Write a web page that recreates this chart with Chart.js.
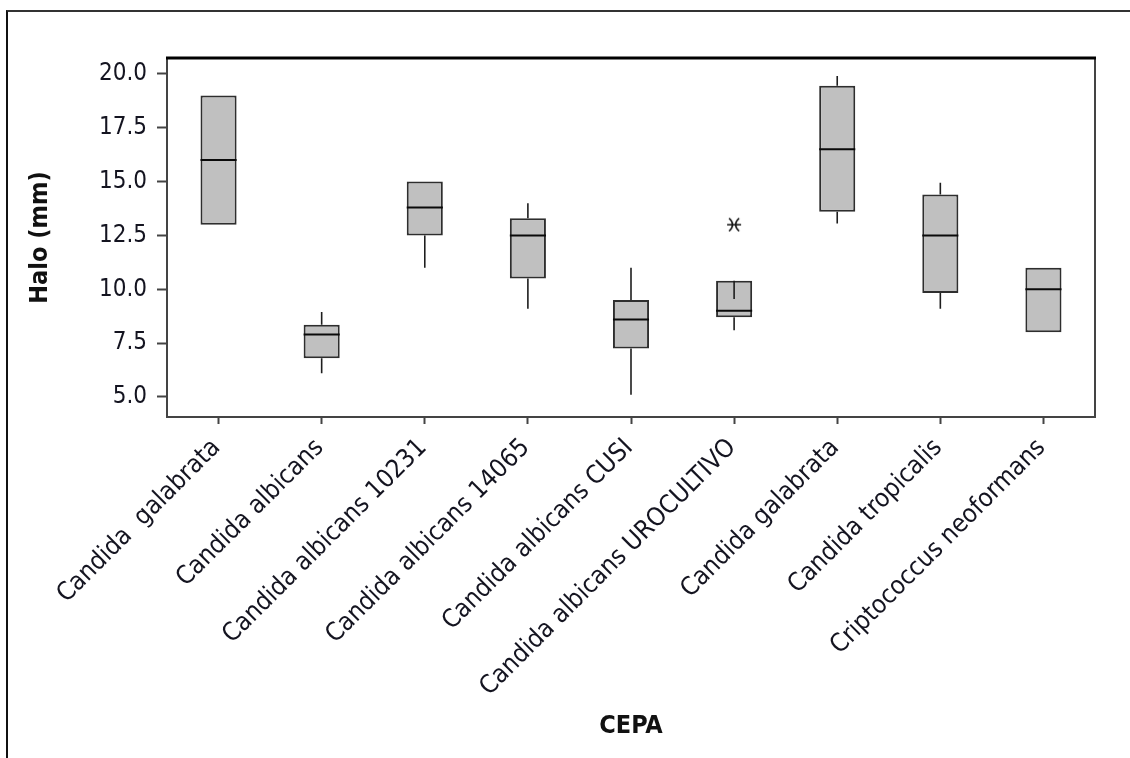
<!DOCTYPE html>
<html>
<head>
<meta charset="utf-8">
<script src="https://cdn.jsdelivr.net/npm/chart.js@4.4.1/dist/chart.umd.min.js"></script>
<style>
  html, body { margin: 0; padding: 0; background: #fff; }
  #wrap { position: relative; width: 1130px; height: 758px; overflow: hidden; }
  #frame { position: absolute; left: 6px; top: 10px; right: -10px; bottom: -10px;
           border-left: 2px solid #111; border-top: 2px solid #333; }
  canvas { position: absolute; left: 0; top: 0; }
</style>
</head>
<body>
<div id="wrap">
  <div id="frame"></div>
  <canvas id="chart" width="1130" height="758"></canvas>
</div>
<script>
const categories = [
  "Candida  galabrata",
  "Candida albicans",
  "Candida albicans 10231",
  "Candida albicans 14065",
  "Candida albicans CUSI",
  "Candida albicans UROCULTIVO",
  "Candida galabrata",
  "Candida tropicalis",
  "Criptococcus neoformans"
];

// five-number summaries per strain (mm)
const whiskerLow = [13, 6.1, 11, 9.1, 5.1, 8.1, 13.05, 9.1, 8];
const quartile1 = [13, 6.8, 12.5, 10.5, 7.25, 8.7, 13.6, 9.83, 8];
const medians = [16, 7.9, 13.8, 12.5, 8.6, 9.0, 16.5, 12.5, 10];
const quartile3 = [19, 8.35, 15, 13.3, 9.5, 10.4, 19.45, 14.4, 11];
const whiskerHigh = [19, 8.95, 15, 14, 11, 9.55, 19.9, 14.95, 11];

const outlierCategory = ["Candida albicans UROCULTIVO"];
const outlierValues = [13];

const yTicks = [5, 7.5, 10, 12.5, 15, 17.5, 20];

const FONT = "'DejaVu Sans Condensed', 'DejaVu Sans', sans-serif";
const TEXT = "#141420";
const AXIS = "#444";

// asterisk-like outlier symbol: a bar with ")(" arms
function outlierSymbol() {
  const c = document.createElement("canvas");
  c.width = 18;
  c.height = 16;
  const g = c.getContext("2d");
  g.strokeStyle = "#111";
  g.lineWidth = 1.6;
  g.beginPath();
  g.moveTo(2, 8);
  g.lineTo(16, 8);
  g.moveTo(4, 1.5);
  g.quadraticCurveTo(11, 8, 4, 14.5);
  g.moveTo(14, 1.5);
  g.quadraticCurveTo(7, 8, 14, 14.5);
  g.stroke();
  return c;
}

const boxMarks = {
  id: "boxMarks",
  afterDatasetsDraw(chart) {
    const { ctx, chartArea, scales } = chart;
    const y = scales.y;
    const meta = chart.getDatasetMeta(0);
    ctx.save();
    meta.data.forEach((bar, i) => {
      const half = bar.width / 2;
      ctx.strokeStyle = "#1e1e1e";
      ctx.lineWidth = 1.6;
      ctx.beginPath();
      if (whiskerHigh[i] !== quartile3[i]) {
        ctx.moveTo(bar.x, y.getPixelForValue(quartile3[i]));
        ctx.lineTo(bar.x, y.getPixelForValue(whiskerHigh[i]));
      }
      if (whiskerLow[i] !== quartile1[i]) {
        ctx.moveTo(bar.x, y.getPixelForValue(quartile1[i]));
        ctx.lineTo(bar.x, y.getPixelForValue(whiskerLow[i]));
      }
      ctx.stroke();

      const my = y.getPixelForValue(medians[i]);
      ctx.strokeStyle = "#0a0a0a";
      ctx.lineWidth = 2;
      ctx.beginPath();
      ctx.moveTo(bar.x - half, my);
      ctx.lineTo(bar.x + half, my);
      ctx.stroke();
    });

    // plot frame: grey sides, heavier black top edge
    const { left, right, top, bottom } = chartArea;
    ctx.strokeStyle = AXIS;
    ctx.lineWidth = 2;
    ctx.beginPath();
    ctx.moveTo(left, top);
    ctx.lineTo(left, bottom);
    ctx.lineTo(right, bottom);
    ctx.lineTo(right, top);
    ctx.stroke();
    ctx.strokeStyle = "#000";
    ctx.lineWidth = 3;
    ctx.beginPath();
    ctx.moveTo(left - 1, top);
    ctx.lineTo(right + 1, top);
    ctx.stroke();
    ctx.restore();
  }
};

new Chart(document.getElementById("chart"), {
  type: "bar",
  data: {
    labels: categories,
    datasets: [
      {
        type: "bar",
        data: categories.map((c, i) => [quartile1[i], quartile3[i]]),
        backgroundColor: "#c0c0c0",
        borderColor: "#2e2e2e",
        borderWidth: 2,
        borderSkipped: false,
        barPercentage: 0.35,
        categoryPercentage: 1
      },
      {
        type: "scatter",
        data: outlierCategory.map((c, i) => ({ x: c, y: outlierValues[i] })),
        pointStyle: outlierSymbol(),
        radius: 8
      }
    ]
  },
  options: {
    responsive: false,
    animation: false,
    layout: { padding: { left: 21, top: 58, right: 35, bottom: 13 } },
    plugins: {
      legend: { display: false },
      tooltip: { enabled: false }
    },
    scales: {
      x: {
        type: "category",
        offset: true,
        afterFit: (scale) => { scale.height = 328; },
        grid: {
          offset: false,
          drawOnChartArea: false,
          tickLength: 7,
          tickWidth: 2,
          tickColor: AXIS
        },
        border: { display: false },
        ticks: {
          autoSkip: false,
          minRotation: 45,
          maxRotation: 45,
          padding: 9,
          labelOffset: -2,
          color: TEXT,
          font: { family: FONT, size: 25.5 }
        },
        title: {
          display: true,
          text: "CEPA",
          color: "#111",
          padding: { top: 0, bottom: 4 },
          font: { family: FONT, size: 25, weight: "bold" }
        }
      },
      y: {
        min: 4.07,
        max: 20.74,
        afterFit: (scale) => { scale.width = 146; },
        afterBuildTicks: (scale) => {
          scale.ticks = yTicks.map((v) => ({ value: v }));
        },
        grid: {
          drawOnChartArea: false,
          tickLength: 10,
          tickWidth: 2,
          tickColor: AXIS
        },
        border: { display: false },
        ticks: {
          padding: 10,
          color: TEXT,
          font: { family: FONT, size: 24 },
          callback: (value) => Number(value).toFixed(1)
        },
        title: {
          display: true,
          text: "Halo (mm)",
          color: "#111",
          padding: { top: 4, bottom: 0 },
          font: { family: FONT, size: 25, weight: "bold" }
        }
      }
    }
  },
  plugins: [boxMarks]
});
</script>
</body>
</html>
